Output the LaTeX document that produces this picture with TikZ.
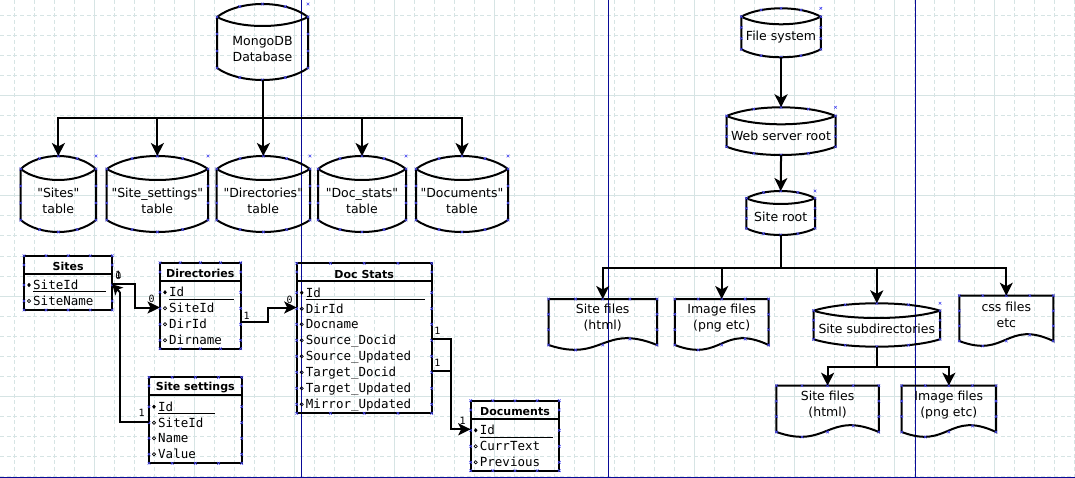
\documentclass[tikz,border=0pt]{standalone}
\usepackage{fontspec}
\setmainfont{DejaVu Sans}[Ligatures=TeXOff]
\setmonofont{DejaVu Sans Mono}
\usetikzlibrary{arrows.meta}
\definecolor{gridc}{RGB}{214,228,228}
\definecolor{pagec}{RGB}{10,10,150}
\definecolor{cpc}{RGB}{70,70,240}
\tikzset{
 shp/.style={line width=2pt, line join=miter, black},
 conn/.style={line width=2pt, black},
 arr/.style={-{Stealth[length=13pt,width=13pt,inset=3.5pt]}},
 sarr/.style={-{Stealth[length=12.5pt,width=12pt,inset=3pt]}},
 lbl/.style={font=\fontsize{12.5}{16}\selectfont, align=center, inner sep=0pt},
 ttl/.style={font=\fontsize{11}{13}\selectfont\bfseries, inner sep=0pt},
 rowt/.style={font=\fontsize{12.5}{15}\selectfont\ttfamily, inner sep=0pt, anchor=base west},
 mult/.style={font=\fontsize{10}{12}\selectfont\ttfamily, inner sep=0pt},
 cpst/.style={cpc, line width=0.6pt},
 gridd/.style={gridc, line width=1pt, dash pattern=on 4pt off 2.67pt},
 grids/.style={gridc, line width=1pt},
 pageln/.style={pagec, line width=1pt},
}
% connection point marker
\newcommand\cpx[2]{\draw[cpst] ({#1},{#2}) +(-1.3,-1.3) -- +(1.3,1.3) +(-1.3,1.3) -- +(1.3,-1.3);}
% cylinder: name x1 x2 ytop ycorner yinner ysidebottom ybottom
\newcommand\cyl[8]{%
 \pgfmathsetmacro\cyA{#2+0.25*(#3-#2)}%
 \pgfmathsetmacro\cyB{#3-0.25*(#3-#2)}%
 \pgfmathsetmacro\cyT{#5-4/3*(#5-#4)}%
 \pgfmathsetmacro\cyI{#5+4/3*(#6-#5)}%
 \pgfmathsetmacro\cyH{#7+4/3*(#8-#7)}%
 \pgfmathsetmacro\cyM{(#2+#3)/2}%
 \draw[shp] (#2,#5) .. controls (\cyA,\cyT) and (\cyB,\cyT) .. (#3,#5) -- (#3,#7) .. controls (\cyB,\cyH) and (\cyA,\cyH) .. (#2,#7) -- cycle;
 \draw[shp] (#2,#5) .. controls (\cyA,\cyI) and (\cyB,\cyI) .. (#3,#5);
 \coordinate (#1-n) at (\cyM,#4);
 \coordinate (#1-s) at (\cyM,#8);
 \foreach \f/\g in {0.25/0.8,0.5/1,0.75/0.8}{%
   \pgfmathsetmacro\cpX{#2+\f*(#3-#2)}%
   \pgfmathsetmacro\cpY{#5-\g*(#5-#4)}%
   \cpx{\cpX}{\cpY}%
   \pgfmathsetmacro\cpY{#7+\g*(#8-#7)}%
   \cpx{\cpX}{\cpY}}
 \foreach \f in {0,0.3333,0.6667,1}{%
   \pgfmathsetmacro\cpY{#5+\f*(#7-#5)}%
   \cpx{#2}{\cpY}\cpx{#3}{\cpY}}
 \cpx{#3}{#4}
}
% document shape: name x1 x2 ytop ybase
\newcommand\docshape[5]{%
 \pgfmathsetmacro\dsM{(#2+#3)/2}%
 \draw[shp] (#2,#4) -- (#3,#4) -- (#3,#5) .. controls (\dsM,#5-22) and (\dsM,#5+18) .. (#2,#5) -- cycle;
 \coordinate (#1-n) at (\dsM,#4);
 \foreach \f in {0,0.25,0.5,0.75,1}{\cpx{#2+\f*(#3-#2)}{#4}}
 \foreach \f in {0.3333,0.6667,1}{\cpx{#2}{#4+\f*(#5-#4)}\cpx{#3}{#4+\f*(#5-#4)}}
 \cpx{#2+0.25*(#3-#2)}{#5+5}\cpx{\dsM}{#5}\cpx{#2+0.75*(#3-#2)}{#5-6}
}
% ER table frame: x1 x2 ytop yhead ybot {side ys}
\newcommand\erframe[6]{%
 \draw[shp] (#1,#3) rectangle (#2,#5);
 \draw[shp] (#1,#4) -- (#2,#4);
 \foreach \f in {0,0.25,0.5,0.75,1}{\cpx{#1+\f*(#2-#1)}{#3}\cpx{#1+\f*(#2-#1)}{#5}}
 \foreach \yy in {#6}{\cpx{#1}{\yy}\cpx{#2}{\yy}}
}
% key row: name x1 y text underline-end
\newcommand\erkey[5]{%
 \node[rowt] (#1) at (#2+9,#3+4.5) {#4};
 \draw[line width=0.8pt] (#2+9,#3+6.8) -- (#5,#3+6.8);
 \fill (#2+5,#3) +(-1.8,0) -- +(0,-2.2) -- +(1.8,0) -- +(0,2.2) -- cycle;
}
% field row: name x1 y text
\newcommand\erfld[4]{%
 \node[rowt] (#1) at (#2+9,#3+4.5) {#4};
 \draw[line width=0.7pt] (#2+5,#3) circle (1.6);
}
\begin{document}
\begin{tikzpicture}[x=1pt,y=-1pt]
\useasboundingbox (0,0) rectangle (1075,478);
\fill[white] (0,0) rectangle (1075,478);
% grid
\foreach \i in {0,...,53}{%
  \pgfmathtruncatemacro\gx{14+20*\i}%
  \pgfmathtruncatemacro\sol{mod(\i,5)==4}%
  \ifnum\sol=1 \draw[grids] (\gx,0) -- (\gx,478); \else \draw[gridd] (\gx,0) -- (\gx,478); \fi}
\foreach \i in {0,...,23}{%
  \pgfmathtruncatemacro\gy{16+20*\i}%
  \pgfmathtruncatemacro\sol{mod(\i,5)==4}%
  \ifnum\sol=1 \draw[grids] (0,\gy) -- (1075,\gy); \else \draw[gridd] (0,\gy) -- (1075,\gy); \fi}
% page break lines
\draw[pageln] (301.5,0) -- (301.5,478);
\draw[pageln] (608,0) -- (608,478);
\draw[pageln] (915,0) -- (915,478);
\draw[pageln] (0,477.3) -- (1075,477.3);

% ---------- MongoDB part ----------
\cyl{mongo}{217}{308}{4}{17}{26}{68}{80}
\node[lbl] (mongot) at (262.5,49) {MongoDB\\Database};
\cyl{tsites}{20.7}{96}{156}{169}{180}{220}{232}
\cyl{tsett}{106.7}{208}{156}{169}{180}{220}{232}
\cyl{tdirs}{216.7}{310}{156}{169}{180}{220}{232}
\cyl{tdocst}{318}{406}{156}{169}{180}{220}{232}
\cyl{tdocs}{416}{508}{156}{169}{180}{220}{232}
\node[lbl] (tsitest) at (58.3,201) {"Sites"\\table};
\node[lbl] (tsettt) at (157.3,201) {"Site\_settings"\\table};
\node[lbl] (tdirst) at (263.3,201) {"Directories"\\table};
\node[lbl] (tdocstt) at (362,201) {"Doc\_stats"\\table};
\node[lbl] (tdocst2) at (462,201) {"Documents"\\table};
\draw[conn,arr] (mongo-s) -- ++(0,38) -| (tsites-n);
\draw[conn,arr] (mongo-s) -- ++(0,38) -| (tsett-n);
\draw[conn,arr] (mongo-s) -- ++(0,38) -| (tdirs-n);
\draw[conn,arr] (mongo-s) -- ++(0,38) -| (tdocst-n);
\draw[conn,arr] (mongo-s) -- ++(0,38) -| (tdocs-n);

% ---------- ER tables ----------
% Sites
\erframe{24}{112.3}{255.7}{274}{310}{265,285,301}
\node[ttl] (sites) at (68.2,266) {Sites};
\erkey{siteid}{24}{285}{SiteId}{106}
\erfld{sitename}{24}{301}{SiteName}
% Directories
\erframe{160}{240.7}{262.7}{280.7}{348.7}{272,292.3,308.3,324.3,340.3}
\node[ttl] (dirs) at (200.3,273.5) {Directories};
\erkey{dirid0}{160}{292.3}{Id}{234}
\erfld{dirsite}{160}{308.3}{SiteId}
\erfld{dirdir}{160}{324.3}{DirId}
\erfld{dirname}{160}{340.3}{Dirname}
% Site settings
\erframe{149}{241.7}{377.3}{395}{463.3}{386,406.7,422.7,438.3,454.3}
\node[ttl] (sett) at (195.3,387.3) {Site settings};
\erkey{setid}{149}{406.7}{Id}{215}
\erfld{setsite}{149}{422.7}{SiteId}
\erfld{setname}{149}{438.3}{Name}
\erfld{setval}{149}{454.3}{Value}
% Doc Stats
\erframe{296.7}{431.7}{263.3}{281}{413.3}{272,292.7,308.7,324.3,340.3,356.3,372.3,388.3,404.3}
\node[ttl] (dstats) at (364.2,274) {Doc Stats};
\erkey{dsid}{296.7}{292.7}{Id}{425}
\erfld{dsdir}{296.7}{308.7}{DirId}
\erfld{dsname}{296.7}{324.3}{Docname}
\erfld{dssd}{296.7}{340.3}{Source\_Docid}
\erfld{dssu}{296.7}{356.3}{Source\_Updated}
\erfld{dstd}{296.7}{372.3}{Target\_Docid}
\erfld{dstu}{296.7}{388.3}{Target\_Updated}
\erfld{dsmu}{296.7}{404.3}{Mirror\_Updated}
% Documents
\erframe{470.7}{559.3}{400.7}{419.3}{470.7}{410,430.3,446.3,462.3}
\node[ttl] (docs) at (515,412) {Documents};
\erkey{docid}{470.7}{430.3}{Id}{552.7}
\erfld{doccur}{470.7}{446.3}{CurrText}
\erfld{docprev}{470.7}{462.3}{Previous}

% multiplicity labels
\node[mult] (m1) at (118.5,275.5) {0};
\node[mult] (m2) at (118.5,274.5) {1};
\node[mult] (m3) at (151.7,299) {0};
\node[mult] (m4) at (141.7,413.3) {1};
\node[mult] (m5) at (246.7,315.5) {1};
\node[mult] (m6) at (289.7,300) {0};
\node[mult] (m7) at (437.3,331.3) {1};
\node[mult] (m8) at (437.3,363.3) {1};
\node[mult] (m9) at (462.7,421) {1};

% ER connectors
\coordinate (sites-r) at (112.3,284.3);
\coordinate (dirs-l) at (160,307.5);
\coordinate (dirs-r) at (240.7,322.3);
\coordinate (ds-l) at (296.7,307.5);
\coordinate (ds-r1) at (431.7,339);
\coordinate (ds-r2) at (431.7,370.7);
\coordinate (docs-l) at (470.7,429.3);
\coordinate (sett-l) at (149,421.7);
\coordinate (sett-bend) at (119.8,292);
\draw[conn,sarr] (sites-r) -- ++(22.7,0) |- (dirs-l);
\draw[conn] (sett-l) -| (sett-bend);
\draw[conn,-{Stealth[length=10pt,width=11pt,inset=2.5pt]}] (sett-bend) -- (sites-r);
\draw[conn,sarr] (dirs-r) -- ++(27.6,0) |- (ds-l);
\draw[conn,sarr] (ds-r1) -- ++(19,0) |- (docs-l);
\draw[conn] (ds-r2) -- ++(19,0);

% ---------- File system part ----------
\cyl{fs}{741.3}{820.8}{8.3}{16.7}{24.3}{49.3}{57.3}
\cyl{wsr}{726.6}{835.5}{107.3}{116}{124.3}{146.7}{155}
\cyl{sr}{746.4}{815}{191}{198.3}{204}{228.3}{235}
\cyl{ssd}{813.6}{940}{303.3}{310.7}{318}{339.3}{346.7}
\node[lbl] (fst) at (781,37) {File system};
\node[lbl] (wsrt) at (781,136) {Web server root};
\node[lbl] (srt) at (780.7,217) {Site root};
\node[lbl] (ssdt) at (876.8,328.5) {Site subdirectories};
\docshape{sf1}{548.5}{657}{299}{345}
\docshape{if1}{674.8}{768.6}{299}{345}
\docshape{css}{959.3}{1053.3}{295.7}{341}
\docshape{sf2}{776.4}{878.8}{385.7}{432}
\docshape{if2}{901.7}{996}{385.7}{432}
\node[lbl] (sf1t) at (602.7,318) {Site files\\(html)};
\node[lbl] (if1t) at (721.7,318) {Image files\\(png etc)};
\node[lbl] (csst) at (1006.3,315) {css files\\etc};
\node[lbl] (sf2t) at (827.6,405) {Site files\\(html)};
\node[lbl] (if2t) at (948.8,405) {Image files\\(png etc)};
\draw[conn,arr] (fs-s) -- (wsr-n);
\draw[conn,arr] (wsr-s) -- (sr-n);
\draw[conn,arr] (sr-s) -- ++(0,32.7) -| (sf1-n);
\draw[conn,arr] (sr-s) -- ++(0,32.7) -| (if1-n);
\draw[conn,arr] (sr-s) -- ++(0,32.7) -| (ssd-n);
\draw[conn,arr] (sr-s) -- ++(0,32.7) -| (css-n);
\draw[conn,arr] (ssd-s) -- ++(0,20) -| (sf2-n);
\draw[conn,arr] (ssd-s) -- ++(0,20) -| (if2-n);
\end{tikzpicture}
\end{document}
